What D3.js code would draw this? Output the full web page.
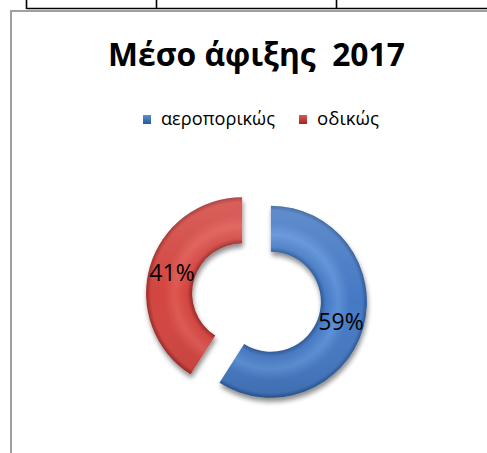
<!DOCTYPE html>
<html>
<head>
<meta charset="utf-8">
<script src="https://cdn.jsdelivr.net/npm/d3@7"></script>
<style>
  html, body { margin: 0; padding: 0; background: #fff; }
  svg { display: block; }
  text { white-space: pre; }
</style>
</head>
<body>
<svg id="chart" width="487" height="453"></svg>
<script>
// Data
const title = "Μέσο άφιξης  2017";
const categories = ["αεροπορικώς", "οδικώς"];
const shares = [59, 41];
const seriesColors = ["#4579c4", "#d2443f"];
const darkColors = ["#2c5896", "#9a2926"];
const lightColors = ["#5b8fd6", "#de5852"];

const svg = d3.select("#chart");
const W = 487, H = 453;
const defs = svg.append("defs");

// Surrounding table rules and the chart frame
const rules = svg.append("g");
rules.append("line").attr("x1", 26.5).attr("x2", W).attr("y1", 8.5).attr("y2", 8.5)
  .attr("stroke", "#000").attr("stroke-width", 1.6);
[26.5, 156.5, 336.5].forEach(x => {
  rules.append("line").attr("x1", x).attr("x2", x).attr("y1", 0).attr("y2", 9)
    .attr("stroke", "#000").attr("stroke-width", 1.6);
});
rules.append("path").attr("d", `M${W},11 H11 V${H}`)
  .attr("fill", "none").attr("stroke", "#a0a0a0").attr("stroke-width", 2);

// Title, sized to its measured width
const titleText = svg.append("text")
  .attr("x", 256.5).attr("y", 66)
  .attr("text-anchor", "middle")
  .attr("font-family", "'Open Sans', 'Noto Sans', sans-serif")
  .attr("font-weight", "bold")
  .attr("font-size", 28)
  .attr("fill", "#000")
  .text(title);
{
  const w = titleText.node().getComputedTextLength();
  titleText.attr("font-size", 28 * 297 / w);
}

// Legend
const legendX = [143, 299];
const legend = svg.append("g");
categories.forEach((c, i) => {
  const g = defs.append("linearGradient").attr("id", "lg" + i)
    .attr("x1", 0).attr("y1", 0).attr("x2", 0).attr("y2", 1);
  g.append("stop").attr("offset", 0).attr("stop-color", lightColors[i]);
  g.append("stop").attr("offset", 1).attr("stop-color", darkColors[i]);
  legend.append("rect").attr("x", legendX[i]).attr("y", 115)
    .attr("width", 8).attr("height", 9)
    .attr("fill", `url(#lg${i})`);
  const t = legend.append("text").attr("x", legendX[i] + 18).attr("y", 125)
    .attr("font-family", "'Open Sans', 'Noto Sans', sans-serif")
    .attr("font-size", 16).attr("fill", "#000").text(c);
  const target = i === 0 ? 114 : 62;
  const w = t.node().getComputedTextLength();
  t.attr("font-size", 16 * target / w);
});

// Doughnut
const cx = 256.5, cy = 297.5;
const outerR = 96, innerR = 50, explode = 15;

const pie = d3.pie().sort(null).value(d => d)
  .startAngle(0).endAngle(2 * Math.PI);
const arcs = pie(shares);
const arc = d3.arc().innerRadius(innerR).outerRadius(outerR);

// Soft drop shadow
const shadow = defs.append("filter").attr("id", "shadow")
  .attr("x", "-30%").attr("y", "-30%").attr("width", "160%").attr("height", "160%");
shadow.append("feGaussianBlur").attr("in", "SourceAlpha").attr("stdDeviation", 2.5).attr("result", "b");
shadow.append("feOffset").attr("in", "b").attr("dx", 1).attr("dy", 4).attr("result", "o");
shadow.append("feComponentTransfer").attr("in", "o").attr("result", "s")
  .append("feFuncA").attr("type", "linear").attr("slope", 0.45);
const merge = shadow.append("feMerge");
merge.append("feMergeNode").attr("in", "s");
merge.append("feMergeNode").attr("in", "SourceGraphic");

// Bevel-like ring shading per slice
arcs.forEach((a, i) => {
  const g = defs.append("radialGradient").attr("id", "rg" + i)
    .attr("gradientUnits", "userSpaceOnUse")
    .attr("cx", 0).attr("cy", 0).attr("r", outerR);
  const k = innerR / outerR;
  g.append("stop").attr("offset", k).attr("stop-color", darkColors[i]);
  g.append("stop").attr("offset", k + 0.05).attr("stop-color", seriesColors[i]);
  g.append("stop").attr("offset", k + 0.18).attr("stop-color", lightColors[i]);
  g.append("stop").attr("offset", 0.82).attr("stop-color", seriesColors[i]);
  g.append("stop").attr("offset", 0.95).attr("stop-color", seriesColors[i]);
  g.append("stop").attr("offset", 1).attr("stop-color", darkColors[i]);
});
const sheen = defs.append("linearGradient").attr("id", "sheen")
  .attr("gradientUnits", "userSpaceOnUse")
  .attr("x1", 0).attr("y1", -outerR).attr("x2", 0).attr("y2", outerR);
sheen.append("stop").attr("offset", 0).attr("stop-color", "#fff").attr("stop-opacity", 0.15);
sheen.append("stop").attr("offset", 0.5).attr("stop-color", "#fff").attr("stop-opacity", 0);
sheen.append("stop").attr("offset", 1).attr("stop-color", "#000").attr("stop-opacity", 0.1);

const slices = svg.append("g").selectAll("g.slice").data(arcs).join("g")
  .attr("class", "slice")
  .attr("transform", d => {
    const m = (d.startAngle + d.endAngle) / 2;
    return `translate(${cx + explode * Math.sin(m)},${cy - explode * Math.cos(m)})`;
  });

slices.append("path").attr("d", arc)
  .attr("fill", (d, i) => `url(#rg${i})`)
  .attr("filter", "url(#shadow)");
slices.append("path").attr("d", arc).attr("fill", "url(#sheen)");

slices.append("text")
  .attr("transform", d => `translate(${arc.centroid(d)})`)
  .attr("text-anchor", "middle")
  .attr("dy", "0.36em")
  .attr("font-family", "'Open Sans', 'Noto Sans', sans-serif")
  .attr("font-size", 23)
  .attr("fill", "#000")
  .text(d => d.data + "%");
</script>
</body>
</html>
